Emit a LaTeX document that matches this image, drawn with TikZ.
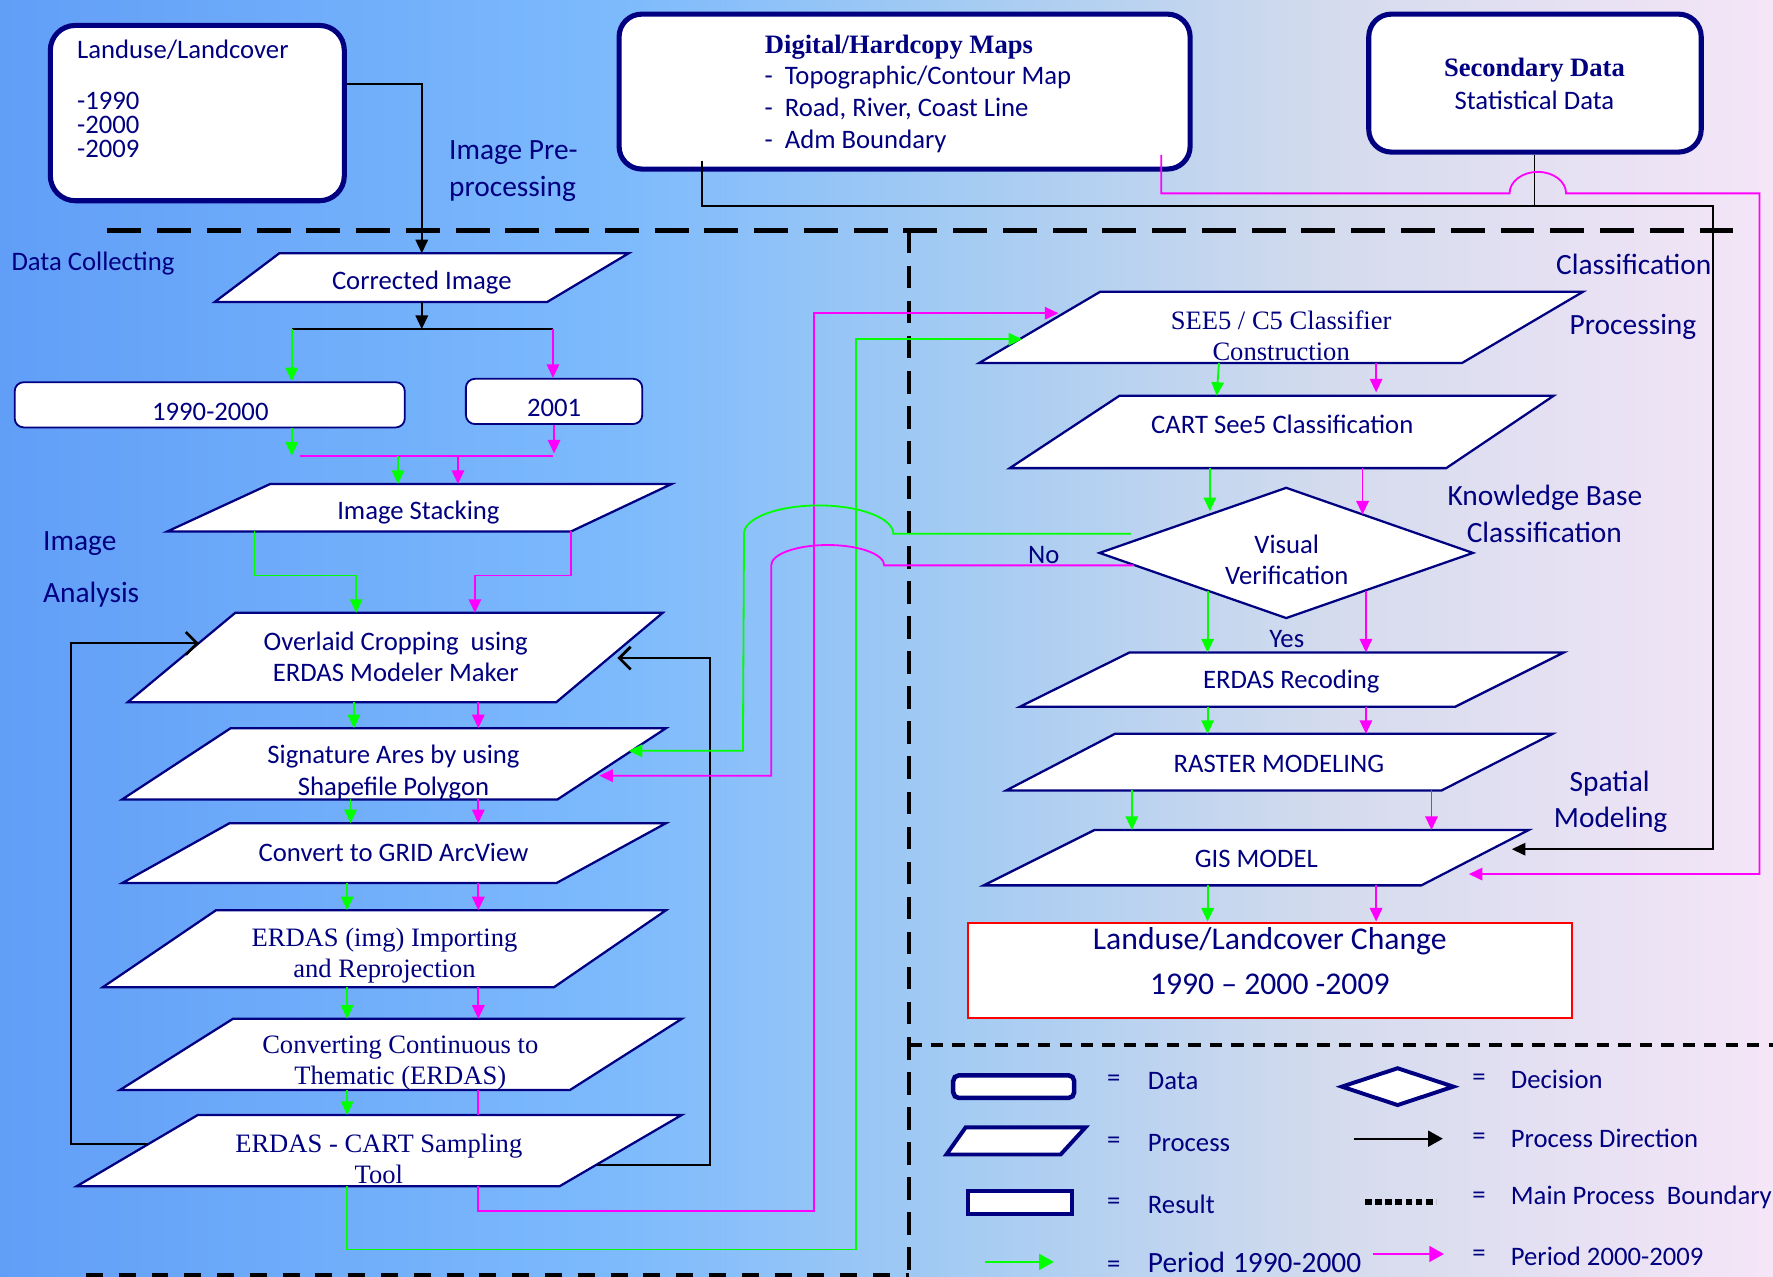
\documentclass[tikz,border=0pt]{standalone}
\usepackage{fontspec}
\setmainfont{Carlito}
\newfontfamily\tnr{Liberation Serif}
\usetikzlibrary{arrows.meta,shapes.geometric}
\definecolor{cnavy}{RGB}{0,0,128}
\definecolor{cgreen}{RGB}{0,255,0}
\definecolor{cmag}{RGB}{255,0,255}
\definecolor{cred}{RGB}{255,0,0}
\pgfdeclarehorizontalshading{bgshade}{100bp}{rgb(0bp)=(0.38,0.62,0.97); rgb(25bp)=(0.38,0.62,0.97); rgb(42.5bp)=(0.49,0.73,0.99); rgb(52.5bp)=(0.65,0.80,0.95); rgb(62.5bp)=(0.83,0.86,0.93); rgb(75bp)=(0.96,0.90,0.97); rgb(100bp)=(0.96,0.90,0.97)}
\newcommand{\procshape}[8][]{%
  \draw[procline,#1] (#5,#3) -- (#6,#3) -- (#8,#4) -- (#7,#4) -- cycle;
  \node[anchorbox, minimum height={(#4-#3)*1pt}] (#2) at ({(#5+#6+#7+#8)/4},{(#3+#4)/2}) {};
}
\begin{document}
\begin{tikzpicture}[x=1pt,y=-1pt,
  txt/.style={text=cnavy,inner sep=0pt,font=\fontsize{23.6}{28}\selectfont},
  lbl/.style={text=cnavy,inner sep=0pt,font=\fontsize{26}{31}\selectfont,anchor=west},
  stxt/.style={text=cnavy,inner sep=0pt,font=\tnr\fontsize{23.5}{28}\selectfont},
  btxt/.style={text=cnavy,inner sep=0pt,font=\tnr\bfseries\fontsize{23.5}{28}\selectfont},
  procline/.style={draw=cnavy,fill=white,line width=2pt,line join=miter},
  anchorbox/.style={rectangle,draw=none,inner sep=0pt,outer sep=0pt,minimum width=10pt},
  databox/.style={rectangle,draw=cnavy,fill=white,line width=4.5pt,rounded corners=22pt,inner sep=0pt},
  thinbox/.style={rectangle,draw=cnavy,fill=white,line width=1.6pt,rounded corners=8pt,inner sep=0pt},
  gln/.style={draw=cgreen,line width=1.6pt},
  mln/.style={draw=cmag,line width=1.6pt},
  blk/.style={draw=black,line width=1.6pt},
  garr/.style={gln,-{Triangle[length=12pt,width=11pt]}},
  marr/.style={mln,-{Triangle[length=12pt,width=11pt]}},
  blkarr/.style={blk,-{Triangle[length=12pt,width=11pt]}},
  openarr/.style={blk,-{Straight Barb[length=10pt,width=20pt,line width=2.4pt]}},
  bound/.style={draw=black,line width=4pt,dash pattern=on 30pt off 14pt},
  vbound/.style={draw=black,line width=3.5pt,dash pattern=on 20pt off 11pt},
  lbound/.style={draw=black,line width=4pt,dash pattern=on 11pt off 8pt},
  bbound/.style={draw=black,line width=5pt,dash pattern=on 15pt off 14pt}
]
\useasboundingbox (0,0) rectangle (1568,1129);
\shade[shading=bgshade] (0,0) rectangle (1568,1129);

% boundaries
\draw[bound] (95,204) -- (1535,204);
\draw[vbound] (804,204) -- (804,1129);
\draw[lbound] (804,924) -- (1568,924);
\draw[bbound] (76,1128) -- (804,1128);

% data boxes
\node[databox,minimum width=260pt,minimum height=155pt] (b1) at (174.5,100) {};
\node[databox,minimum width=505pt,minimum height=137pt,rounded corners=20pt] (b2) at (800,81) {};
\node[databox,minimum width=294pt,minimum height=122pt,rounded corners=20pt] (b3) at (1357.5,73.5) {};
\node[thinbox,minimum width=345pt,minimum height=40pt] (d1) at (185.5,358) {};
\node[thinbox,minimum width=156pt,minimum height=40pt] (d2) at (490,355) {};
\node[rectangle,draw=cred,fill=white,line width=2pt,minimum width=534pt,minimum height=84pt,inner sep=0pt] (res) at (1123,858) {};

% processes
\procshape{p1}{224}{267}{247}{556}{190}{484}
\procshape{p2}{428}{470}{239}{594}{148}{505}
\procshape{p3}{542}{621}{208}{586}{113}{492}
\procshape{p4}{644}{707}{204}{589}{108}{493}
\procshape{p5}{728}{781}{203}{589}{108}{492}
\procshape{p6}{805}{873}{191}{589}{91}{490}
\procshape{p7}{901}{964}{206}{603}{106}{504}
\procshape{p8}{986}{1049}{175}{603}{68}{495}
\procshape{p9}{258}{321}{973}{1400}{866}{1293}
\procshape{p10}{350}{414}{990}{1374}{893}{1279}
\procshape{p11}{577}{625}{999}{1383}{902}{1287}
\procshape{p12}{649}{699}{986}{1373}{890}{1275}
\procshape{p13}{734}{783}{968}{1352}{870}{1257}
\node[diamond,draw=cnavy,fill=white,line width=2pt,aspect=2.85,minimum width=331pt,minimum height=116pt,inner sep=0pt] (dv) at (1137.5,489) {};

% texts in boxes
\node[txt,anchor=base west] (b1a) at (68,52) {Landuse/Landcover};
\node[txt,anchor=base west] (b1b) at (68,97) {-1990};
\node[txt,anchor=base west] (b1c) at (68,118) {-2000};
\node[txt,anchor=base west] (b1d) at (68,139) {-2009};
\node[btxt] (b2t) at (795,42) {Digital/Hardcopy Maps};
\node[txt,anchor=base west] (b2a) at (676,75) {-\ \ Topographic/Contour Map};
\node[txt,anchor=base west] (b2b) at (676,103) {-\ \ Road, River, Coast Line};
\node[txt,anchor=base west] (b2c) at (676,131) {-\ \ Adm Boundary};
\node[btxt] (b3t) at (1357,62) {Secondary Data};
\node[txt] (b3s) at (1357,89) {Statistical Data};
\node[txt] (d1t) at (186,364) {1990-2000};
\node[txt] (d2t) at (490,361) {2001};
\node[txt,font=\fontsize{28}{39}\selectfont,align=center] (rest) at (1123,850) {Landuse/Landcover Change\\1990 – 2000 -2009};

\node[txt] (p1t) at (373,250) {Corrected Image};
\node[txt] (p2t) at (370,453) {Image Stacking};
\node[txt,align=center] (p3t) at (350,581) {Overlaid Cropping\ \ using\\ERDAS Modeler Maker};
\node[txt,align=center] (p4t) at (348,683) {Signature Ares by using\\Shapefile Polygon};
\node[txt] (p5t) at (348,754) {Convert to GRID ArcView};
\node[stxt,align=center] (p6t) at (340,845) {ERDAS (img) Importing\\and Reprojection};
\node[stxt,align=center] (p7t) at (354,940) {Converting Continuous to\\Thematic (ERDAS)};
\node[stxt,align=center] (p8t) at (335,1025) {ERDAS - CART Sampling\\Tool};
\node[stxt,align=center] (p9t) at (1133,297) {SEE5 / C5 Classifier\\Construction};
\node[txt] (p10t) at (1134,375) {CART See5 Classification};
\node[txt,align=center] (dvt) at (1138,495) {Visual\\Verification};
\node[txt] (p11t) at (1142,603) {ERDAS Recoding};
\node[txt] (p12t) at (1131,676) {RASTER MODELING};
\node[txt] (p13t) at (1111,760) {GIS MODEL};

% labels
\node[lbl] (l1) at (397,135) {Image Pre-};
\node[lbl] (l2) at (397,167) {processing};
\node[txt,anchor=west] (l3) at (10,233) {Data Collecting};
\node[lbl] (l4) at (1376,234) {Classification};
\node[lbl] (l5) at (1388,289) {Processing};
\node[lbl] (l6) at (38,481) {Image};
\node[lbl] (l7) at (38,526) {Analysis};
\node[lbl] (l8) at (1280,440) {Knowledge Base};
\node[lbl] (l9) at (1297,471) {Classification};
\node[lbl] (l10) at (1388,693) {Spatial};
\node[lbl] (l11) at (1374,725) {Modeling};
\node[txt] (lno) at (923,491) {No};
\node[txt] (lyes) at (1138,565) {Yes};

% black connectors
\coordinate (c1) at (373,74);
\draw[blkarr] (b1.east |- c1) -- (c1) -- (p1.north -| c1);
\coordinate (j1) at (373,291);
\coordinate (jg) at (258,291);
\coordinate (jm) at (489,291);
\draw[blkarr] (p1.south -| j1) -- (j1);
\draw[blk] (jg) -- (jm);
\draw[garr] (jg) -- (d1.north -| jg);
\draw[marr] (jm) -- (d2.north -| jm);

% data to stacking
\draw[garr] (d1.south -| 258,0) -- (258,403);
\draw[marr] (d2.south -| 490,0) -- (490,401);
\draw[mln] (265,403) -- (489,403);
\draw[garr] (352,403) -- (p2.north -| 352,0);
\draw[marr] (405,403) -- (p2.north -| 405,0);

% left column
\draw[garr] (p2.south -| 225,0) -- (225,509) -- (315,509) -- (p3.north -| 315,0);
\draw[marr] (p2.south -| 505,0) -- (505,509) -- (420,509) -- (p3.north -| 420,0);
\draw[garr] (p3.south -| 313,0) -- (p4.north -| 313,0);
\draw[marr] (p3.south -| 423,0) -- (p4.north -| 423,0);
\draw[garr] (p4.south -| 310,0) -- (p5.north -| 310,0);
\draw[marr] (p4.south -| 423,0) -- (p5.north -| 423,0);
\draw[garr] (p5.south -| 307,0) -- (p6.north -| 307,0);
\draw[marr] (p5.south -| 423,0) -- (p6.north -| 423,0);
\draw[garr] (p6.south -| 307,0) -- (p7.north -| 307,0);
\draw[marr] (p6.south -| 423,0) -- (p7.north -| 423,0);
\draw[garr] (p7.south -| 307,0) -- (p8.north -| 307,0);
\draw[mln] (p7.south -| 423,0) -- (p8.north -| 423,0);

% P8 to classifier
\draw[marr] (p8.south -| 423,0) -- (423,1071) -- (720,1071) -- (720,277) -- (936,277);
\draw[garr] (p8.south -| 307,0) -- (307,1105) -- (757,1105) -- (757,300) -- (904,300);

% loops
\draw[openarr] (131,1012) -- (63,1012) -- (63,569) -- (176,569);
\draw[openarr] (528,1030) -- (628,1030) -- (628,582) -- (546,582);

% No branches
\draw[garr] (1000,472) -- (790,472) arc[start angle=0,end angle=180,x radius=66pt,y radius=25pt] -- (657,664) -- (556,664);
\draw[marr] (1003,500) -- (782,500) arc[start angle=0,end angle=180,x radius=50pt,y radius=18pt] -- (682,686) -- (530,686);

% right column
\draw[garr] (p9.south -| 1078,0) -- (p10.north -| 1076,0);
\draw[marr] (p9.south -| 1217,0) -- (1217,347);
\draw[garr] (p10.south -| 1070,0) -- (1070,452);
\draw[marr] (p10.south -| 1205,0) -- (1205,455);
\draw[garr] (1068,523) -- (p11.north -| 1068,0);
\draw[marr] (1208,523) -- (p11.north -| 1208,0);
\draw[garr] (p11.south -| 1068,0) -- (p12.north -| 1068,0);
\draw[marr] (p11.south -| 1208,0) -- (p12.north -| 1208,0);
\draw[garr] (p12.south -| 1001,0) -- (p13.north -| 1001,0);
\draw[marr] (p12.south -| 1266,0) -- (p13.north -| 1266,0);
\draw[garr] (p13.south -| 1068,0) -- (res.north -| 1068,0);
\draw[marr] (p13.south -| 1217,0) -- (res.north -| 1217,0);

% top connectors
\draw[blkarr] (621,142) -- (621,182) -- (1515,182) -- (1515,751) -- (1337,751);
\draw[blk] (b3.south -| 1357,0) -- (1357,182);
\draw[marr] (1027,137) -- (1027,171) -- (1335,171) arc[start angle=180,end angle=0,x radius=25pt,y radius=19pt] -- (1556,171) -- (1556,773) -- (1299,773);

% legend
\node[rectangle,draw=cnavy,fill=white,line width=4pt,rounded corners=5pt,minimum width=107pt,minimum height=20pt,inner sep=0pt] (ldata) at (896.5,961) {};
\procshape[line width=3.5pt]{lproc}{997}{1021}{854}{960}{837}{938}
\node[rectangle,draw=cnavy,fill=white,line width=3.5pt,minimum width=92pt,minimum height=20pt,inner sep=0pt] (lres) at (902,1063.5) {};
\coordinate (lga) at (871,1116);
\coordinate (lgb) at (932,1116);
\draw[gln,line width=2pt,-{Triangle[length=13pt,width=14pt]}] (lga) -- (lgb);
\node[diamond,draw=cnavy,fill=white,line width=3.5pt,minimum width=100pt,minimum height=34pt,inner sep=0pt] (ldiam) at (1236,961) {};
\coordinate (lba) at (1197,1007);
\coordinate (lbb) at (1276,1007);
\draw[blk,line width=2pt,-{Triangle[length=13pt,width=14pt]}] (lba) -- (lbb);
\coordinate (lda) at (1207,1063);
\coordinate (ldb) at (1270,1063);
\draw[draw=black,line width=5pt,dash pattern=on 6pt off 3pt] (lda) -- (ldb);
\coordinate (lma) at (1214,1109);
\coordinate (lmb) at (1277,1109);
\draw[mln,line width=2pt,-{Triangle[length=13pt,width=14pt]}] (lma) -- (lmb);

\node[txt] (e1) at (985,956) {=};
\node[txt] (e2) at (985,1011) {=};
\node[txt] (e3) at (985,1065) {=};
\node[txt] (e4) at (985,1120) {=};
\node[txt,anchor=west] (t1) at (1015,956) {Data};
\node[txt,anchor=west] (t2) at (1015,1011) {Process};
\node[txt,anchor=west] (t3) at (1015,1065) {Result};
\node[txt,anchor=base west,font=\fontsize{26}{30}\selectfont] (t4) at (1015,1125) {Period\hspace{7pt}1990-2000};
\node[txt] (e5) at (1308,955) {=};
\node[txt] (e6) at (1308,1007) {=};
\node[txt] (e7) at (1308,1059) {=};
\node[txt] (e8) at (1308,1111) {=};
\node[txt,anchor=west] (t5) at (1336,955) {Decision};
\node[txt,anchor=west] (t6) at (1336,1007) {Process Direction};
\node[txt,anchor=west] (t7) at (1336,1059) {Main Process\ \ Boundary};
\node[txt,anchor=west] (t8) at (1336,1111) {Period 2000-2009};
\end{tikzpicture}
\end{document}
